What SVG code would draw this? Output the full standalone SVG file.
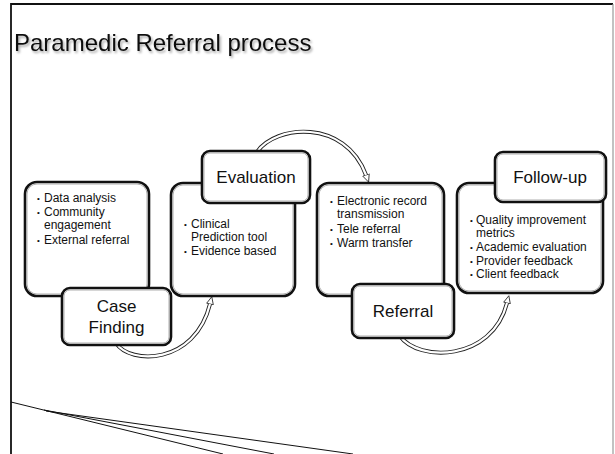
<svg xmlns="http://www.w3.org/2000/svg" width="615" height="454" viewBox="0 0 615 454">
<defs>
<style>
text{font-family:"Liberation Sans",Arial,sans-serif;fill:#111}
.title{font-size:24px}
.lbl{font-size:17px;text-anchor:middle}
.bul{font-size:12px}
.dot{font-size:8px}
.box{fill:#fff;stroke:#111;stroke-width:2.6}
.inner{fill:none;stroke:#9a9a9a;stroke-width:0.8}
.arrO{fill:none;stroke:#222;stroke-width:4}
.arrI{fill:none;stroke:#fff;stroke-width:2.2}
.frame{fill:none;stroke:#111}
</style>
<filter id="sh" x="-5%" y="-30%" width="110%" height="160%">
<feDropShadow dx="1.5" dy="2" stdDeviation="1.2" flood-color="#000" flood-opacity="0.35"/>
</filter>
<marker id="ah" markerUnits="userSpaceOnUse" markerWidth="12" markerHeight="12" refX="0.5" refY="4" orient="auto" viewBox="0 0 12 8">
<polygon points="0.5,0.6 8,4 0.5,7.4" fill="#fff" stroke="#222" stroke-width="0.8" stroke-linejoin="miter"/>
</marker>
</defs>
<rect width="615" height="454" fill="#fff"/>
<g id="frame">
<line class="frame" x1="11" y1="4" x2="613" y2="4" stroke-width="2.2"/>
<line class="frame" x1="11" y1="3" x2="11" y2="454" stroke-width="1.8"/>
<line x1="613" y1="4" x2="613" y2="454" stroke="#999" stroke-width="1.2"/>
<path d="M11,402 L223,454 M44,410 L274,454 M46,411 L353,454" fill="none" stroke="#111" stroke-width="1"/>
</g>
<text class="title" x="14" y="51" filter="url(#sh)">Paramedic Referral process</text>
<g id="connectors">
<path class="arrO" d="M116,343 C130,365 195,365 210,304" marker-end="url(#ah)"/>
<path class="arrI" d="M116,343 C130,365 195,365 210,304"/>
<path class="arrO" d="M257,152 C275,125 345,118 366,175" marker-end="url(#ah)"/>
<path class="arrI" d="M257,152 C275,125 345,118 366,175"/>
<path class="arrO" d="M400,336 C418,362 492,362 507,303" marker-end="url(#ah)"/>
<path class="arrI" d="M400,336 C418,362 492,362 507,303"/>
</g>
<g id="case-finding">
<rect class="box" x="25" y="182" width="124" height="114" rx="12"/>
<rect class="inner" x="27" y="184" width="120" height="110" rx="10"/>
<text class="bul"><tspan class="dot" x="37" y="201">•</tspan><tspan x="44" y="202">Data analysis</tspan></text>
<text class="bul"><tspan class="dot" x="37" y="215">•</tspan><tspan x="44" y="216">Community</tspan><tspan x="44" y="229">engagement</tspan></text>
<text class="bul"><tspan class="dot" x="37" y="243">•</tspan><tspan x="44" y="244">External referral</tspan></text>
<rect class="box" x="62" y="288" width="109" height="57" rx="8"/>
<rect class="inner" x="64" y="290" width="105" height="53" rx="6"/>
<text class="lbl" x="116.5" y="312">Case</text>
<text class="lbl" x="116.5" y="333">Finding</text>
</g>
<g id="evaluation">
<rect class="box" x="171" y="183" width="124" height="113" rx="12"/>
<rect class="inner" x="173" y="185" width="120" height="109" rx="10"/>
<text class="bul"><tspan class="dot" x="184" y="227">•</tspan><tspan x="191" y="228">Clinical</tspan><tspan x="191" y="241">Prediction tool</tspan></text>
<text class="bul"><tspan class="dot" x="184" y="254">•</tspan><tspan x="191" y="255">Evidence based</tspan></text>
<rect class="box" x="202" y="151" width="108" height="52" rx="8"/>
<rect class="inner" x="204" y="153" width="104" height="48" rx="6"/>
<text class="lbl" x="256" y="183">Evaluation</text>
</g>
<g id="referral">
<rect class="box" x="317" y="183" width="127" height="113" rx="12"/>
<rect class="inner" x="319" y="185" width="123" height="109" rx="10"/>
<text class="bul"><tspan class="dot" x="330" y="204">•</tspan><tspan x="337" y="205">Electronic record</tspan><tspan x="337" y="218">transmission</tspan></text>
<text class="bul"><tspan class="dot" x="330" y="232">•</tspan><tspan x="337" y="233">Tele referral</tspan></text>
<text class="bul"><tspan class="dot" x="330" y="246">•</tspan><tspan x="337" y="247">Warm transfer</tspan></text>
<rect class="box" x="352" y="284" width="102" height="54" rx="8"/>
<rect class="inner" x="354" y="286" width="98" height="50" rx="6"/>
<text class="lbl" x="403" y="317">Referral</text>
</g>
<g id="follow-up">
<rect class="box" x="457" y="183" width="146" height="110" rx="12"/>
<rect class="inner" x="459" y="185" width="142" height="106" rx="10"/>
<text class="bul"><tspan class="dot" x="470" y="223">•</tspan><tspan x="476" y="224">Quality improvement</tspan><tspan x="476" y="237">metrics</tspan></text>
<text class="bul"><tspan class="dot" x="470" y="250">•</tspan><tspan x="476" y="251">Academic evaluation</tspan></text>
<text class="bul"><tspan class="dot" x="470" y="264">•</tspan><tspan x="476" y="265">Provider feedback</tspan></text>
<text class="bul"><tspan class="dot" x="470" y="277">•</tspan><tspan x="476" y="278">Client feedback</tspan></text>
<rect class="box" x="495" y="152" width="111" height="50" rx="8"/>
<rect class="inner" x="497" y="154" width="107" height="46" rx="6"/>
<text class="lbl" x="550" y="183">Follow-up</text>
</g>
</svg>
